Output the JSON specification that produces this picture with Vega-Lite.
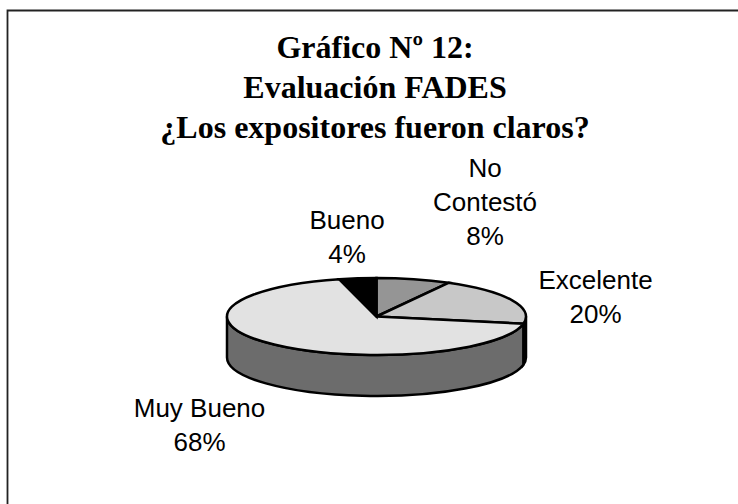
{
  "$schema": "https://vega.github.io/schema/vega-lite/v6.json",
  "width": 738,
  "height": 504,
  "padding": 0,
  "autosize": {"type": "none"},
  "background": "white",
  "view": {"stroke": null},
  "title": {
    "text": ["Gráfico Nº 12:", "Evaluación FADES", "¿Los expositores fueron claros?"],
    "font": "Liberation Serif",
    "fontSize": 32,
    "fontWeight": "bold",
    "color": "black",
    "anchor": "middle",
    "baseline": "alphabetic",
    "lineHeight": 40,
    "offset": 0,
    "dy": 170,
    "dx": 6
  },
  "data": {
    "values": [
      {"orden": 1, "categoria": "No Contestó", "porcentaje": 8},
      {"orden": 2, "categoria": "Excelente", "porcentaje": 20},
      {"orden": 3, "categoria": "Muy Bueno", "porcentaje": 68},
      {"orden": 4, "categoria": "Bueno", "porcentaje": 4}
    ]
  },
  "transform": [
    {"window": [{"op": "sum", "field": "porcentaje", "as": "acum"}], "sort": [{"field": "orden", "order": "ascending"}]},
    {"calculate": "(datum.acum - datum.porcentaje) * 2 * PI / 100", "as": "ini"},
    {"calculate": "datum.acum * 2 * PI / 100", "as": "fin"}
  ],
  "layer": [
    {
      "data": {"values": [{"marco": "borde"}]},
      "transform": [],
      "mark": {"type": "rect", "fill": null, "stroke": "#222222", "strokeWidth": 1.8, "clip": true},
      "encoding": {
        "x": {"datum": 7.5, "type": "quantitative", "scale": {"domain": [0, 738]}, "axis": null},
        "x2": {"datum": 760},
        "y": {"datum": 10.5, "type": "quantitative", "scale": {"domain": [0, 504], "reverse": true}, "axis": null},
        "y2": {"datum": 530}
      }
    },
    {
      "transform": [
        {"calculate": "max(datum.ini, PI / 2)", "as": "t1"},
        {"calculate": "min(datum.fin, 3 * PI / 2)", "as": "t2"},
        {"filter": "datum.t2 > datum.t1"},
        {"calculate": "round(14950 * sin(datum.t1)) / 100 + ',' + round(-3850 * cos(datum.t1)) / 100", "as": "a"},
        {"calculate": "round(14950 * sin(datum.t2)) / 100 + ',' + round(-3850 * cos(datum.t2)) / 100", "as": "b"},
        {"calculate": "round(14950 * sin(datum.t2)) / 100 + ',' + round(4100 - 3850 * cos(datum.t2)) / 100", "as": "c"},
        {"calculate": "round(14950 * sin(datum.t1)) / 100 + ',' + round(4100 - 3850 * cos(datum.t1)) / 100", "as": "d"},
        {"calculate": "'M' + datum.a + 'A149.5,38.5,0,0,1,' + datum.b + 'L' + datum.c + 'A149.5,38.5,0,0,0,' + datum.d + 'Z'", "as": "pared"}
      ],
      "mark": {"type": "point", "filled": true, "opacity": 1, "stroke": "black", "strokeWidth": 2.5, "size": 4},
      "encoding": {
        "x": {"datum": 376.5, "type": "quantitative", "scale": {"domain": [0, 738]}, "axis": null},
        "y": {"datum": 316.5, "type": "quantitative", "scale": {"domain": [0, 504], "reverse": true}, "axis": null},
        "shape": {"field": "pared", "type": "nominal", "scale": null},
        "fill": {
          "field": "categoria", "type": "nominal", "legend": null,
          "scale": {"domain": ["Excelente", "Muy Bueno"], "range": ["#1c1c1c", "#6c6c6c"]}
        }
      }
    },
    {
      "transform": [
        {"calculate": "round(14950 * sin(datum.ini)) / 100 + ',' + round(-3850 * cos(datum.ini)) / 100", "as": "a"},
        {"calculate": "round(14950 * sin(datum.fin)) / 100 + ',' + round(-3850 * cos(datum.fin)) / 100", "as": "b"},
        {"calculate": "'M0,0L' + datum.a + 'A149.5,38.5,0,' + (datum.fin - datum.ini > PI ? '1' : '0') + ',1,' + datum.b + 'Z'", "as": "cuna"}
      ],
      "mark": {"type": "point", "filled": true, "opacity": 1, "stroke": "black", "strokeWidth": 2.5, "size": 4},
      "encoding": {
        "x": {"datum": 376.5, "type": "quantitative", "scale": {"domain": [0, 738]}, "axis": null},
        "y": {"datum": 316.5, "type": "quantitative", "scale": {"domain": [0, 504], "reverse": true}, "axis": null},
        "shape": {"field": "cuna", "type": "nominal", "scale": null},
        "fill": {
          "field": "categoria", "type": "nominal", "legend": null,
          "scale": {"domain": ["No Contestó", "Excelente", "Muy Bueno", "Bueno"], "range": ["#959595", "#c8c8c8", "#e2e2e2", "#000000"]}
        }
      }
    },
    {
      "transform": [
        {"calculate": "{'No Contestó': 485, 'Excelente': 595.5, 'Muy Bueno': 199.5, 'Bueno': 347}[datum.categoria]", "as": "lx"},
        {"calculate": "{'No Contestó': 177, 'Excelente': 289, 'Muy Bueno': 417, 'Bueno': 229}[datum.categoria]", "as": "ly"},
        {"calculate": "replace(datum.categoria, 'No Contestó', 'No\\nContestó') + '\\n' + datum.porcentaje + '%'", "as": "etiqueta"}
      ],
      "mark": {"type": "text", "font": "Liberation Sans", "fontSize": 26, "lineBreak": "\n", "lineHeight": 34, "align": "center", "baseline": "alphabetic", "color": "black"},
      "encoding": {
        "x": {"field": "lx", "type": "quantitative", "scale": {"domain": [0, 738]}, "axis": null},
        "y": {"field": "ly", "type": "quantitative", "scale": {"domain": [0, 504], "reverse": true}, "axis": null},
        "text": {"field": "etiqueta", "type": "nominal"}
      }
    }
  ],
  "resolve": {"scale": {"fill": "independent"}}
}
